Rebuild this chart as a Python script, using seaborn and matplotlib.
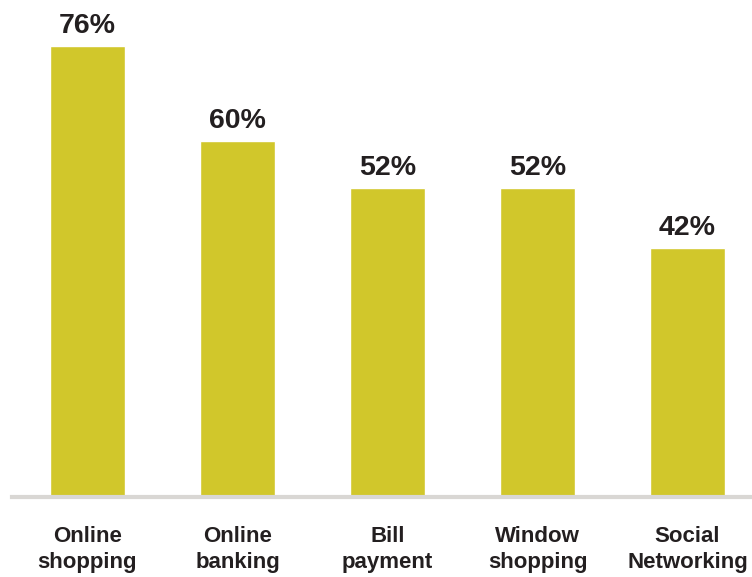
import matplotlib
matplotlib.use("Agg")
import matplotlib.pyplot as plt
import seaborn as sns
import pandas as pd

categories = ["Online\nshopping", "Online\nbanking", "Bill\npayment", "Window\nshopping", "Social\nNetworking"]
values = [76, 60, 52, 52, 42]

sns.set_theme(style="white")
plt.rcParams['font.family'] = ['Liberation Sans', 'DejaVu Sans']

df = pd.DataFrame({"cat": categories, "val": values})

fig = plt.figure(figsize=(7.52, 5.77), dpi=100)
ax = fig.add_axes([12/752, 80/577, 740/752, 497/577])

sns.barplot(data=df, x="cat", y="val", color="#D1C72B", saturation=1, width=0.5, ax=ax)

ax.set_xlim(-0.503, 4.43)
ax.set_ylim(0, 83.75)

for i, v in enumerate(values):
    ax.annotate(f"{v}%", xy=(i, v), xytext=(0, 9.5), textcoords="offset points",
                ha="center", va="baseline", fontsize=20.5, fontweight="bold", color="#231F20")

for s in ["top", "right", "left"]:
    ax.spines[s].set_visible(False)
ax.spines["bottom"].set_color("#D9D7D4")
ax.spines["bottom"].set_linewidth(3)
ax.set_yticks([])
ax.set_xlabel("")
ax.set_ylabel("")
ax.tick_params(axis="x", length=0, pad=21)
for lbl in ax.get_xticklabels():
    lbl.set_fontsize(16)
    lbl.set_fontweight("bold")
    lbl.set_color("#231F20")
    lbl.set_linespacing(1.3)

fig.savefig("out.png", dpi=100)
